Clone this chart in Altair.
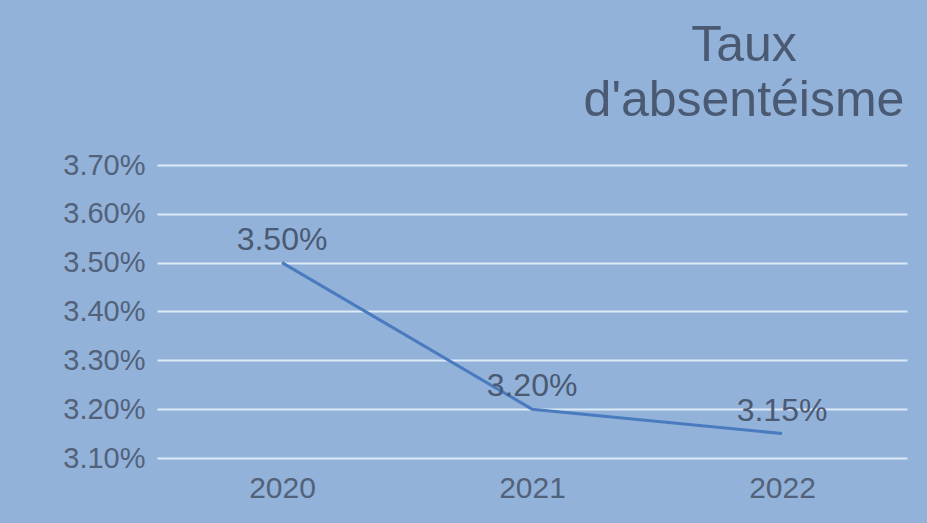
import altair as alt
import pandas as pd

years = ["2020", "2021", "2022"]
rates = [0.035, 0.032, 0.0315]
y_ticks = [0.031, 0.032, 0.033, 0.034, 0.035, 0.036, 0.037]
title_lines = ["Taux", "d'absentéisme"]

TEXT = "#4a5a73"
FONT = "Liberation Sans"

df = pd.DataFrame({"year": years, "rate": rates})

base = alt.Chart(df).encode(
    x=alt.X(
        "year:N",
        sort=years,
        axis=alt.Axis(
            title=None, labelAngle=0, ticks=False, domain=False, grid=False,
            labelFontSize=30, labelColor="#52627a", labelPadding=15, labelFont=FONT,
        ),
    ),
    y=alt.Y(
        "rate:Q",
        scale=alt.Scale(domain=[0.031, 0.037], nice=False, zero=False),
        axis=alt.Axis(
            title=None, values=y_ticks, format=".2%", ticks=False, domain=False,
            grid=True, gridColor="#dce9f7", gridWidth=2,
            labelFontSize=29, labelPadding=12, labelColor="#52627a", labelFont=FONT,
        ),
    ),
)

line = base.mark_line(color="#4a7bbf", strokeWidth=3)
labels = base.mark_text(
    dy=-13, baseline="alphabetic", fontSize=32, color=TEXT, font=FONT
).encode(text=alt.Text("rate:Q", format=".2%"))

chart = (
    (line + labels)
    .properties(
        width=750,
        height=293,
        title=alt.TitleParams(
            text=title_lines, anchor="middle", dx=212, fontSize=50, lineHeight=55,
            font=FONT, fontWeight="normal", color=TEXT, offset=25,
        ),
        background="#93b2d9",
        padding={"left": 157, "top": 165, "right": 20, "bottom": 65},
        autosize=alt.AutoSizeParams(type="none"),
    )
    .configure_view(stroke=None)
)

chart.save("out.html", embed_options={"renderer": "svg", "actions": False})
